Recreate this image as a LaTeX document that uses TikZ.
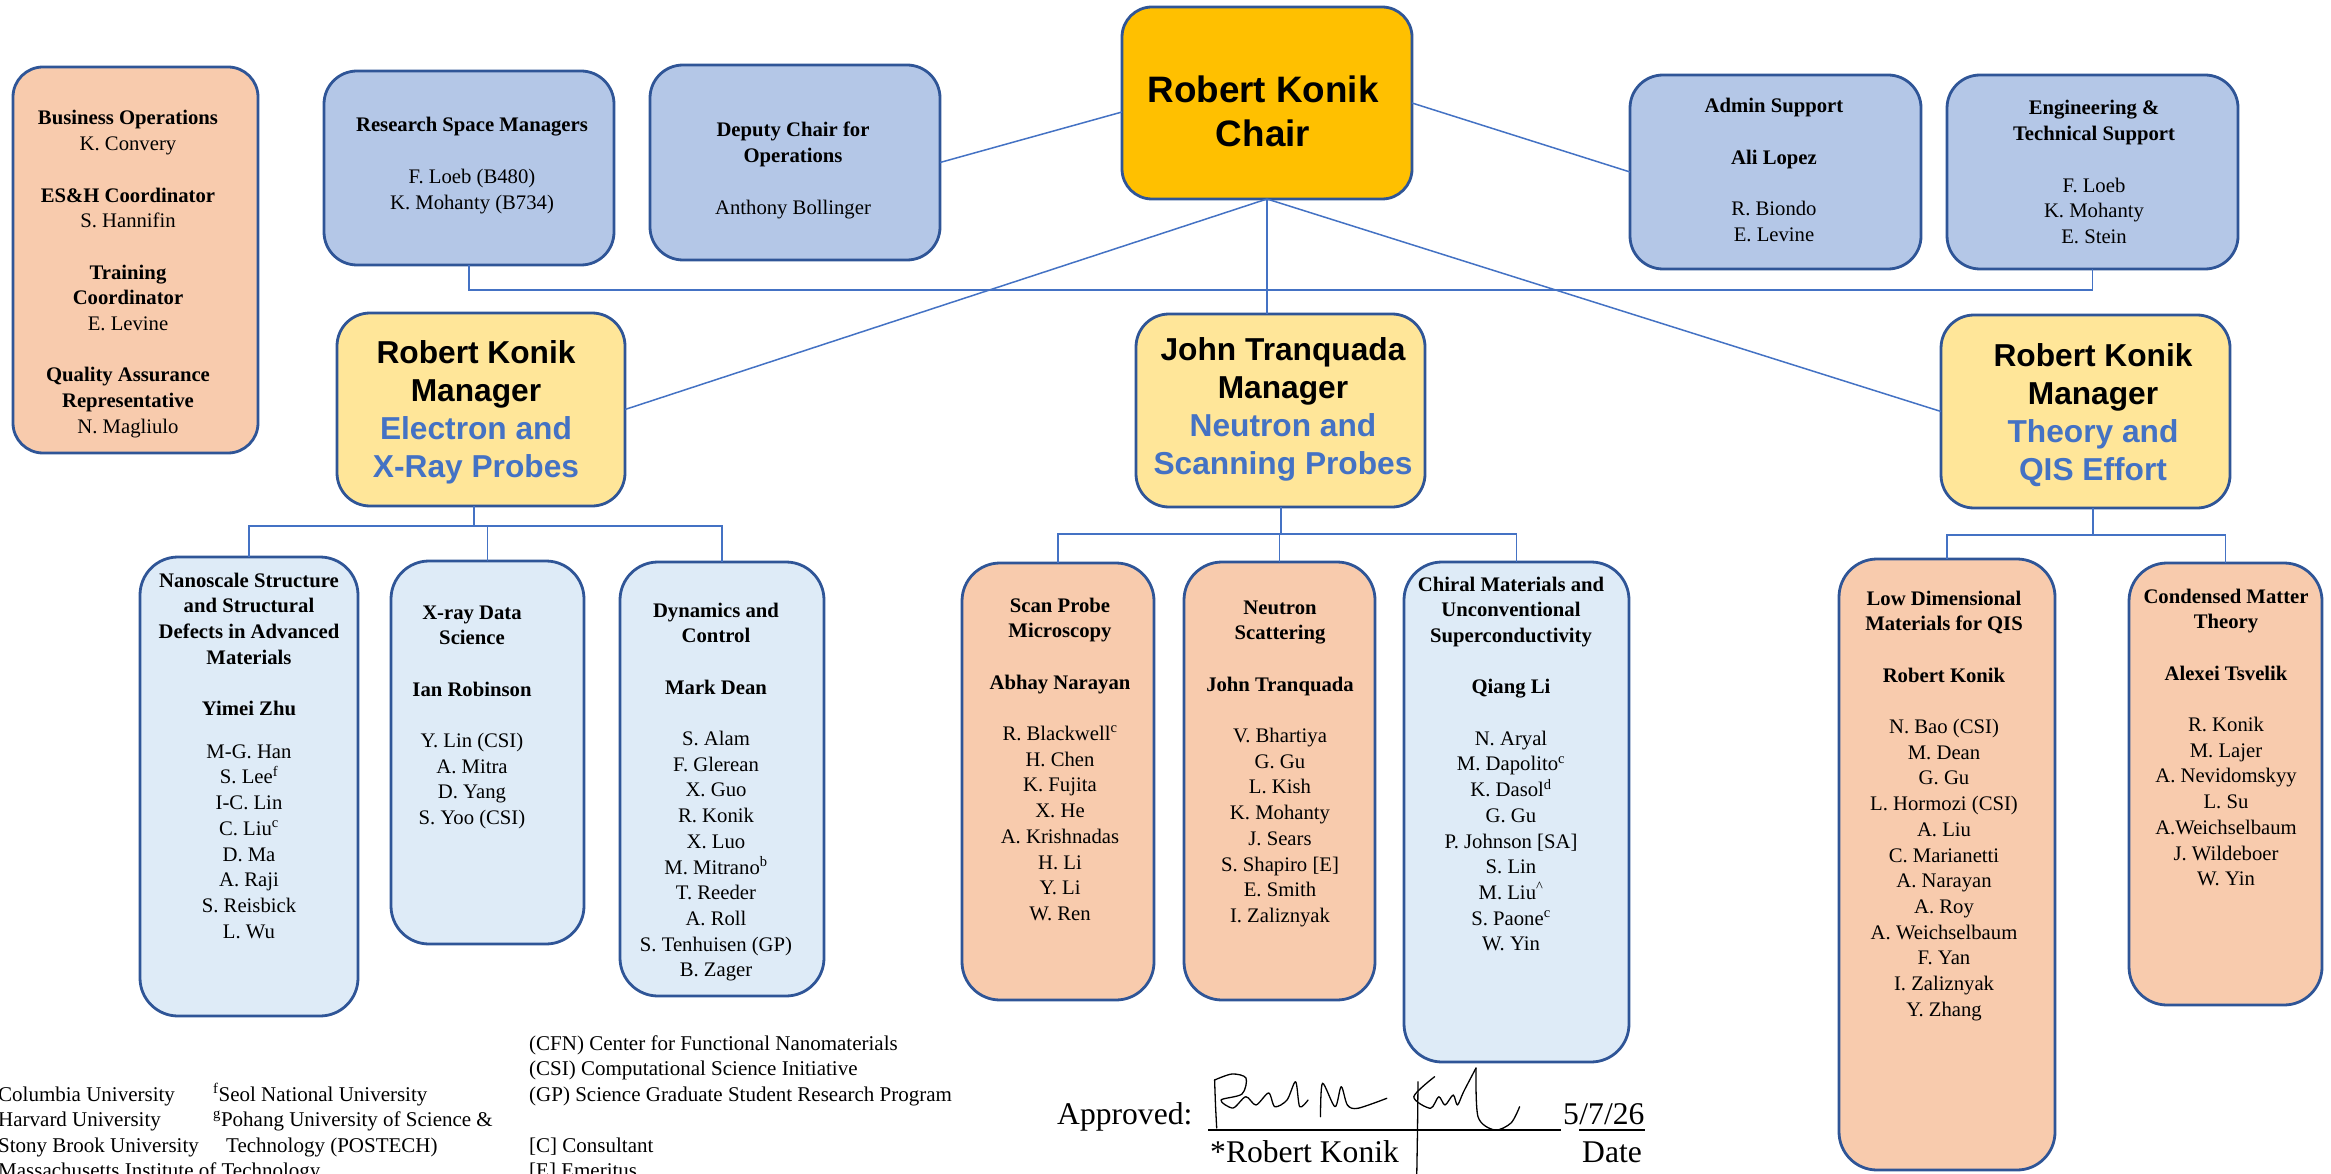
\documentclass[tikz,border=0pt]{standalone}
\usepackage{fontspec}
\setmainfont{Liberation Serif}
\newfontfamily\arialf{Liberation Sans}
\definecolor{peach}{HTML}{F8CBAD}
\definecolor{bluetop}{HTML}{B4C7E7}
\definecolor{chairc}{HTML}{FFC000}
\definecolor{mgrc}{HTML}{FFE699}
\definecolor{lblue}{HTML}{DEEBF7}
\definecolor{bord}{HTML}{2F5597}
\definecolor{conn}{HTML}{4472C4}
\newcommand\gp{\\[25.7pt]}
\newcommand\tb[1]{\begin{tabular}[t]{@{}c@{}}#1\end{tabular}}
\begin{document}
\begin{tikzpicture}[x=1pt,y=-1pt,
  bx/.style={draw=bord, line width=2.8pt, inner sep=0pt, outer sep=0pt},
  con/.style={draw=conn, line width=1.5pt},
  ser/.style={inner sep=0pt, anchor=base, font=\fontsize{20.7}{25.7}\selectfont},
  sansb/.style={inner sep=0pt, anchor=base, font=\arialf\bfseries\fontsize{31.7}{38.3}\selectfont},
  foot/.style={inner sep=0pt, anchor=base west, font=\fontsize{21}{25.5}\selectfont},
  big/.style={inner sep=0pt, anchor=base west, font=\fontsize{31.6}{38}\selectfont},
  sig/.style={draw=black, line width=1.3pt, line cap=round, line join=round}]
\useasboundingbox (0,0) rectangle (2331,1174);
\clip (0,0) rectangle (2331,1174);
\fill[white] (0,0) rectangle (2331,1174);

% ---- boxes ----
\node[bx, fill=peach, rounded corners=30pt, minimum width=245pt, minimum height=386pt] (bo) at (135.5,260) {};
\node[bx, fill=bluetop, rounded corners=33pt, minimum width=290pt, minimum height=194pt] (rsm) at (469,168) {};
\node[bx, fill=bluetop, rounded corners=33pt, minimum width=290pt, minimum height=195pt] (dep) at (795,162.5) {};
\node[bx, fill=chairc, rounded corners=30pt, minimum width=290pt, minimum height=192pt] (chair) at (1267,103) {};
\node[bx, fill=bluetop, rounded corners=33pt, minimum width=291pt, minimum height=194pt] (admin) at (1775.5,172) {};
\node[bx, fill=bluetop, rounded corners=33pt, minimum width=291pt, minimum height=194pt] (eng) at (2092.5,172) {};
\node[bx, fill=mgrc, rounded corners=33pt, minimum width=288pt, minimum height=193pt] (mgrL) at (481,409.5) {};
\node[bx, fill=mgrc, rounded corners=33pt, minimum width=289pt, minimum height=193pt] (mgrC) at (1280.5,410.5) {};
\node[bx, fill=mgrc, rounded corners=33pt, minimum width=289pt, minimum height=193pt] (mgrR) at (2085.5,411.5) {};
\node[bx, fill=lblue, rounded corners=38pt, minimum width=218pt, minimum height=459pt] (nano) at (249,786.5) {};
\node[bx, fill=lblue, rounded corners=38pt, minimum width=193pt, minimum height=383pt] (xray) at (487.5,752.5) {};
\node[bx, fill=lblue, rounded corners=38pt, minimum width=204pt, minimum height=434pt] (dyn) at (722,779) {};
\node[bx, fill=peach, rounded corners=38pt, minimum width=192pt, minimum height=437pt] (scan) at (1058,781.5) {};
\node[bx, fill=peach, rounded corners=38pt, minimum width=191pt, minimum height=438pt] (neut) at (1279.5,781) {};
\node[bx, fill=lblue, rounded corners=38pt, minimum width=225pt, minimum height=500pt] (chir) at (1516.5,812) {};
\node[bx, fill=peach, rounded corners=38pt, minimum width=216pt, minimum height=611pt] (lowd) at (1947,864.5) {};
\node[bx, fill=peach, rounded corners=38pt, minimum width=193pt, minimum height=442pt] (cond) at (2225.5,784) {};

% ---- connectors ----
\draw[con] (dep.east) -- ([yshift=-9pt]chair.west);
\draw[con] (chair.east) -- (admin.west);
\draw[con] (chair.south) -- (mgrL.east);
\draw[con] (chair.south) -- (chair.south |- mgrC.north);
\draw[con] (chair.south) -- (mgrR.west);
\draw[con] (rsm.south) -- ++(0,25) -| (eng.south);
\coordinate (jL) at (474,526);
\draw[con] (jL |- mgrL.south) -- (jL);
\draw[con] (nano.north) |- (jL) -| (dyn.north);
\draw[con] (xray.north) -- (xray.north |- jL);
\coordinate (jC) at (1281,534);
\draw[con] (jC |- mgrC.south) -- (jC);
\draw[con] (scan.north) |- (jC) -| (chir.north);
\draw[con] (neut.north) -- (neut.north |- jC);
\coordinate (jR) at (2093,535);
\draw[con] (jR |- mgrR.south) -- (jR);
\draw[con] (lowd.north) |- (jR) -| (cond.north);

% ---- top texts ----
\node[ser] (tbo) at (128,125) {\tb{\bfseries Business Operations\\ K. Convery\gp
 \bfseries ES\&H Coordinator\\ S. Hannifin\gp
 \bfseries Training\\ \bfseries Coordinator\\ E. Levine\gp
 \bfseries Quality Assurance\\ \bfseries Representative\\ N. Magliulo}};
\node[ser] (trsm) at (472,132) {\tb{\bfseries Research Space Managers\gp F. Loeb (B480)\\ K. Mohanty (B734)}};
\node[ser] (tdep) at (793,137) {\tb{\bfseries Deputy Chair for\\ \bfseries Operations\gp Anthony Bollinger}};
\node[inner sep=0pt, anchor=base, font=\arialf\bfseries\fontsize{36.8}{44}\selectfont] (tchair) at (1263,103) {\tb{Robert Konik\\ Chair}};
\node[ser] (tadmin) at (1774,113) {\tb{\bfseries Admin Support\gp \bfseries Ali Lopez\gp R. Biondo\\ E. Levine}};
\node[ser] (teng) at (2094,115) {\tb{\bfseries Engineering \&\\ \bfseries Technical Support\gp F. Loeb\\ K. Mohanty\\ E. Stein}};

% ---- managers ----
\node[sansb] (tmL) at (476,363) {\tb{Robert Konik\\ Manager\\ \color{conn}Electron and\\ \color{conn}X-Ray Probes}};
\node[sansb] (tmC) at (1283,360) {\tb{John Tranquada\\ Manager\\ \color{conn}Neutron and\\ \color{conn}Scanning Probes}};
\node[sansb] (tmR) at (2093,366) {\tb{Robert Konik\\ Manager\\ \color{conn}Theory and\\ \color{conn}QIS Effort}};

% ---- bottom texts ----
\node[ser] (tnano) at (249,587) {\tb{\bfseries Nanoscale Structure\\ \bfseries and Structural\\ \bfseries Defects in Advanced\\ \bfseries Materials\gp
 \bfseries Yimei Zhu\\[17pt]
 M-G. Han\\ S. Lee\textsuperscript{f}\\ I-C. Lin\\ C. Liu\textsuperscript{c}\\ D. Ma\\ A. Raji\\ S. Reisbick\\ L. Wu}};
\node[ser] (txray) at (472,619) {\tb{\bfseries X-ray Data\\ \bfseries Science\gp \bfseries Ian Robinson\gp
 Y. Lin (CSI)\\ A. Mitra\\ D. Yang\\ S. Yoo (CSI)}};
\node[ser] (tdyn) at (716,617) {\tb{\bfseries Dynamics and\\ \bfseries Control\gp \bfseries Mark Dean\gp
 S. Alam\\ F. Glerean\\ X. Guo\\ R. Konik\\ X. Luo\\ M. Mitrano\textsuperscript{b}\\ T. Reeder\\ A. Roll\\ S. Tenhuisen (GP)\\ B. Zager}};
\node[ser] (tscan) at (1060,612) {\tb{\bfseries Scan Probe\\ \bfseries Microscopy\gp \bfseries Abhay Narayan\gp
 R. Blackwell\textsuperscript{c}\\ H. Chen\\ K. Fujita\\ X. He\\ A. Krishnadas\\ H. Li\\ Y. Li\\ W. Ren}};
\node[ser] (tneut) at (1280,614) {\tb{\bfseries Neutron\\ \bfseries Scattering\gp \bfseries John Tranquada\gp
 V. Bhartiya\\ G. Gu\\ L. Kish\\ K. Mohanty\\ J. Sears\\ S. Shapiro [E]\\ E. Smith\\ I. Zaliznyak}};
\node[ser] (tchir) at (1511,591) {\tb{\bfseries Chiral Materials and\\ \bfseries Unconventional\\ \bfseries Superconductivity\gp \bfseries Qiang Li\gp
 N. Aryal\\ M. Dapolito\textsuperscript{c}\\ K. Dasol\textsuperscript{d}\\ G. Gu\\ P. Johnson [SA]\\ S. Lin\\ M. Liu\textsuperscript{\textasciicircum}\\ S. Paone\textsuperscript{c}\\ W. Yin}};
\node[ser] (tlowd) at (1944,605) {\tb{\bfseries Low Dimensional\\ \bfseries Materials for QIS\gp \bfseries Robert Konik\gp
 N. Bao (CSI)\\ M. Dean\\ G. Gu\\ L. Hormozi (CSI)\\ A. Liu\\ C. Marianetti\\ A. Narayan\\ A. Roy\\ A. Weichselbaum\\ F. Yan\\ I. Zaliznyak\\ Y. Zhang}};
\node[ser] (tcond) at (2226,603) {\tb{\bfseries Condensed Matter\\ \bfseries Theory\gp \bfseries Alexei Tsvelik\gp
 R. Konik\\ M. Lajer\\ A. Nevidomskyy\\ L. Su\\ A.Weichselbaum\\ J. Wildeboer\\ W. Yin}};

% ---- footer ----
\node[foot] (f1) at (-2,1101) {Columbia University};
\node[foot] (f2) at (-2,1126.5) {Harvard University};
\node[foot] (f3) at (-2,1152) {Stony Brook University};
\node[foot] (f4) at (-2,1177.5) {Massachusetts Institute of Technology};
\node[foot] (f5) at (213,1101) {\textsuperscript{f}Seol National University};
\node[foot] (f6) at (213,1126.5) {\textsuperscript{g}Pohang University of Science \&};
\node[foot] (f7) at (226,1152) {Technology (POSTECH)};
\node[foot] (f8) at (529,1050) {(CFN) Center for Functional Nanomaterials};
\node[foot] (f9) at (529,1075.5) {(CSI) Computational Science Initiative};
\node[foot] (f10) at (529,1101) {(GP) Science Graduate Student Research Program};
\node[foot] (f11) at (529,1152) {[C] Consultant};
\node[foot] (f12) at (529,1177.5) {[E] Emeritus};

% ---- approval ----
\node[big] (appr) at (1057,1124) {Approved:};
\node[big] (d5) at (1563,1124) {5};
\node[big] (d726) at (d5.base east) {/7/26};
\draw[black, line width=1.2pt] (1208,1130) -- (1561,1130);
\draw[black, line width=1.2pt] ([yshift=-6pt]d726.base west) -- ([yshift=-6pt]d726.base east);
\node[big] (rk) at (1210,1162) {*Robert Konik};
\node[big] (dt) at (1582,1162) {Date};

% signature scribble
\draw[sig] plot[smooth] coordinates {(1216.7,1128) (1215.5,1105) (1214.6,1080)};
\draw[sig] plot[smooth] coordinates {(1214.6,1080) (1232,1074) (1246,1078) (1242,1094) (1221,1100) (1233,1108) (1245.8,1096.7) (1256,1105) (1268.6,1093) (1274.8,1106.7) (1287,1100) (1295.6,1081.7) (1299.7,1106.7) (1308,1100)};
\draw[sig] plot[smooth] coordinates {(1320.5,1116.7) (1322.5,1083.3) (1335,1106.7) (1341.2,1086.7) (1347.4,1105) (1357.8,1108.3) (1386.8,1098.3)};
\draw[sig] plot[smooth] coordinates {(1418,1081.7) (1417.5,1130) (1416.7,1178)};
\draw[sig] plot[smooth] coordinates {(1434.6,1076.7) (1413.8,1096.7) (1430.4,1108.3) (1438.7,1096.7) (1445,1105) (1453.2,1095) (1457.4,1105) (1463.6,1091.7) (1476,1068)};
\draw[sig] plot[smooth] coordinates {(1476,1068) (1478,1116.7) (1494.7,1130) (1511,1123) (1519.6,1106.7)};
\end{tikzpicture}
\end{document}
